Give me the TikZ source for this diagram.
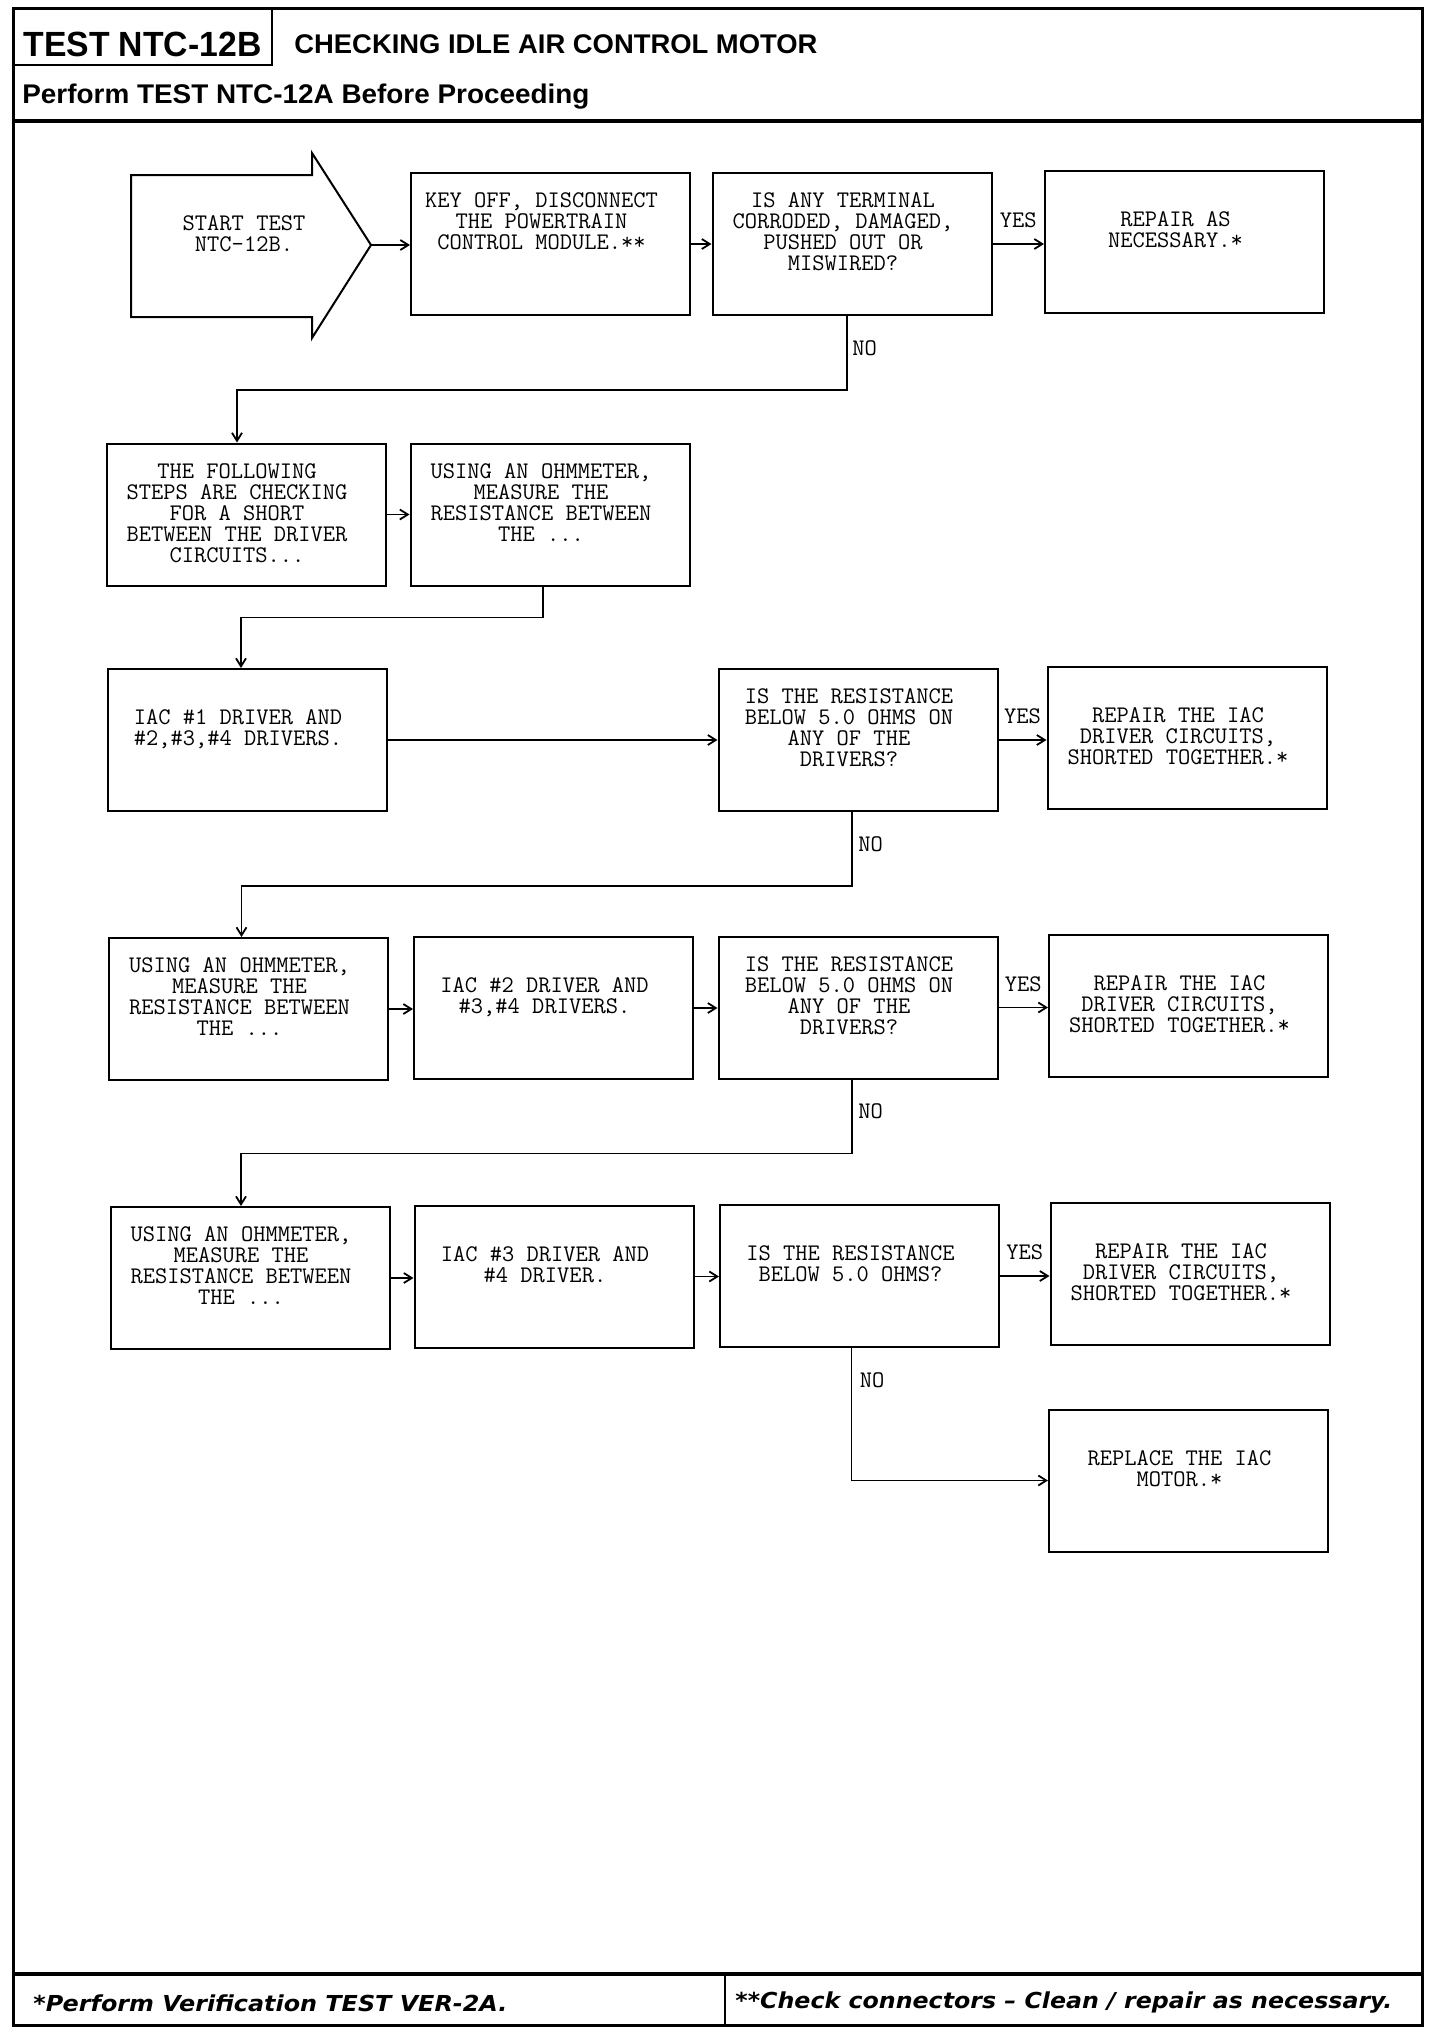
\documentclass[tikz,border=0pt]{standalone}
\usepackage{fontspec}
\usepackage{graphicx}
\usetikzlibrary{arrows.meta}
\newfontfamily\headfont{Liberation Sans}
\newfontfamily\footfont{DejaVu Sans}
\def\fitw#1#2{\resizebox{#1}{\height}{#2}}

\tikzset{
	box/.style={draw, line width=1pt, minimum width=139.5pt, minimum height=71pt, inner sep=0pt},
	boxtxt/.style={anchor=north, align=center, inner sep=0pt, xshift=-4.5pt, font=\ttfamily\fontsize{11.9}{10.5}\selectfont},
	hi/.style={yshift=-10.35pt},
	lo/.style={yshift=-20.85pt},
	lbl/.style={inner sep=0pt, font=\ttfamily\fontsize{11.9}{10.5}\selectfont},
	flow/.style={line width=0.9pt, -{Straight Barb[length=4pt,width=5pt]}}
}

\begin{document}
\begin{tikzpicture}[x=0.5pt, y=-0.5pt]
		%%%%% START %%%%%
		\useasboundingbox (0,0) rectangle (1440,2036);
		
		% page frame and heading
		\draw[line width=1.5pt] (13,8) rectangle (1422,2025);
		\draw[line width=1.2pt] (13,65) -- (272,65) -- (272,8);
		\draw[line width=1.8pt] (13,121) -- (1422,121);
		\draw[line width=1.8pt] (13,1974) -- (1422,1974);
		\draw[line width=1pt] (725,1974) -- (725,2025);
		
		\node[anchor=base west, inner sep=0pt, font=\headfont\bfseries\fontsize{17.5}{18}\selectfont] (testno) at (23,56) {\fitw{119pt}{TEST NTC-12B}};
		\node[anchor=base west, inner sep=0pt, font=\headfont\bfseries\fontsize{13.5}{14}\selectfont] (title) at (294,53) {\fitw{261.5pt}{CHECKING IDLE AIR CONTROL MOTOR}};
		\node[anchor=base west, inner sep=0pt, font=\headfont\bfseries\fontsize{13.5}{14}\selectfont] (before) at (22,103) {\fitw{283.5pt}{Perform TEST NTC-12A Before Proceeding}};
		
		\node[anchor=base west, inner sep=0pt, font=\footfont\bfseries\itshape\fontsize{11}{12}\selectfont] (note1) at (33,2011) {\fitw{237pt}{*Perform Verification TEST VER-2A.}};
		\node[anchor=base west, inner sep=0pt, font=\footfont\bfseries\itshape\fontsize{11}{12}\selectfont] (note2) at (735,2008) {\fitw{328.5pt}{**Check connectors – Clean / repair as necessary.}};
		
		% start arrow
		\draw[line width=1pt] (131,175) -- (312,175) -- (312,153) -- (371,245) -- (312,338) -- (312,317) -- (131,317) -- cycle;
		\coordinate (start-tip) at (371,245);
		\node[boxtxt, xshift=4.5pt] (start) at (244,215) {START TEST\\NTC-12B.};
		
		% row 1
		\node[box] (keyoff) at (550.5,244) {};
		\node[boxtxt, hi] (keyoff-t) at (keyoff.north) {KEY OFF, DISCONNECT\\THE POWERTRAIN\\CONTROL MODULE.**};
		\node[box] (terminal) at (852,244) {};
		\node[boxtxt, hi] (terminal-t) at (terminal.north) {IS ANY TERMINAL\\CORRODED, DAMAGED,\\PUSHED OUT OR\\MISWIRED?};
		\node[box] (repair) at (1184.5,242) {};
		\node[boxtxt, lo] (repair-t) at (repair.north) {REPAIR AS\\NECESSARY.*};
		
		% row 2
		\node[box] (steps) at (246,514.5) {};
		\node[boxtxt, hi] (steps-t) at (steps.north) {THE FOLLOWING\\STEPS ARE CHECKING\\FOR A SHORT\\BETWEEN THE DRIVER\\CIRCUITS...};
		\node[box] (ohm1) at (550,514.5) {};
		\node[boxtxt, hi] (ohm1-t) at (ohm1.north) {USING AN OHMMETER,\\MEASURE THE\\RESISTANCE BETWEEN\\THE ...};
		
		% row 3
		\node[box] (drv1) at (247,740) {};
		\node[boxtxt, lo] (drv1-t) at (drv1.north) {IAC \#1 DRIVER AND\\\#2,\#3,\#4 DRIVERS.};
		\node[box] (res1) at (858,740) {};
		\node[boxtxt, hi] (res1-t) at (res1.north) {IS THE RESISTANCE\\BELOW 5.0 OHMS ON\\ANY OF THE\\DRIVERS?};
		\node[box] (fix1) at (1187,738) {};
		\node[boxtxt, lo] (fix1-t) at (fix1.north) {REPAIR THE IAC\\DRIVER CIRCUITS,\\SHORTED TOGETHER.*};
		
		% row 4
		\node[box] (ohm2) at (248.5,1009) {};
		\node[boxtxt, hi] (ohm2-t) at (ohm2.north) {USING AN OHMMETER,\\MEASURE THE\\RESISTANCE BETWEEN\\THE ...};
		\node[box] (drv2) at (553.5,1008) {};
		\node[boxtxt, lo] (drv2-t) at (drv2.north) {IAC \#2 DRIVER AND\\\#3,\#4 DRIVERS.};
		\node[box] (res2) at (858,1007.5) {};
		\node[boxtxt, hi] (res2-t) at (res2.north) {IS THE RESISTANCE\\BELOW 5.0 OHMS ON\\ANY OF THE\\DRIVERS?};
		\node[box] (fix2) at (1188.5,1006) {};
		\node[boxtxt, lo] (fix2-t) at (fix2.north) {REPAIR THE IAC\\DRIVER CIRCUITS,\\SHORTED TOGETHER.*};
		
		% row 5
		\node[box] (ohm3) at (250,1278) {};
		\node[boxtxt, hi] (ohm3-t) at (ohm3.north) {USING AN OHMMETER,\\MEASURE THE\\RESISTANCE BETWEEN\\THE ...};
		\node[box] (drv3) at (554,1276.5) {};
		\node[boxtxt, lo] (drv3-t) at (drv3.north) {IAC \#3 DRIVER AND\\\#4 DRIVER.};
		\node[box] (res3) at (859.5,1276) {};
		\node[boxtxt, lo] (res3-t) at (res3.north) {IS THE RESISTANCE\\BELOW 5.0 OHMS?};
		\node[box] (fix3) at (1190,1274) {};
		\node[boxtxt, lo] (fix3-t) at (fix3.north) {REPAIR THE IAC\\DRIVER CIRCUITS,\\SHORTED TOGETHER.*};
		
		% row 6
		\node[box] (motor) at (1188.5,1480.5) {};
		\node[boxtxt, lo] (motor-t) at (motor.north) {REPLACE THE IAC\\MOTOR.*};
		
		% connectors
		\draw[flow] (start-tip) -- (start-tip -| keyoff.west);
		\draw[flow] (keyoff.east) -- (keyoff.east -| terminal.west);
		\draw[flow] (terminal.east) -- node[lbl, above=7.5pt] (yes1) {YES} (terminal.east -| repair.west);
		\draw[flow] ([xshift=-2.5pt]terminal.south) -- ++(0,74) -| ([xshift=-4.5pt]steps.north);
		\node[lbl, anchor=west] (no1) at ([yshift=-16pt]terminal.south) {NO};
		
		\draw[flow] (steps.east) -- (steps.east -| ohm1.west);
		\draw[flow] ([xshift=-3.5pt]ohm1.south) -- ++(0,31) -| ([xshift=-3pt]drv1.north);
		
		\draw[flow] (drv1.east) -- (drv1.east -| res1.west);
		\draw[flow] (res1.east) -- node[lbl, above=7.5pt] (yes2) {YES} (res1.east -| fix1.west);
		\draw[flow] ([xshift=-3pt]res1.south) -- ++(0,74) -| ([xshift=-3.5pt]ohm2.north);
		\node[lbl, anchor=west] (no2) at ([yshift=-16pt]res1.south) {NO};
		
		\draw[flow] (ohm2.east) -- (ohm2.east -| drv2.west);
		\draw[flow] (drv2.east) -- (drv2.east -| res2.west);
		\draw[flow] (res2.east) -- node[lbl, above=7.5pt] (yes3) {YES} (res2.east -| fix2.west);
		\draw[flow] ([xshift=-3pt]res2.south) -- ++(0,74) -| ([xshift=-4.5pt]ohm3.north);
		\node[lbl, anchor=west] (no3) at ([yshift=-16pt]res2.south) {NO};
		
		\draw[flow] (ohm3.east) -- (ohm3.east -| drv3.west);
		\draw[flow] (drv3.east) -- (drv3.east -| res3.west);
		\draw[flow] (res3.east) -- node[lbl, above=7.5pt] (yes4) {YES} (res3.east -| fix3.west);
		\draw[flow] ([xshift=-4pt]res3.south) |- (motor.west);
		\node[lbl, anchor=west] (no4) at ([yshift=-16pt]res3.south) {NO};
		
		%%%%% END %%%%%
	\end{tikzpicture}
\end{document}
